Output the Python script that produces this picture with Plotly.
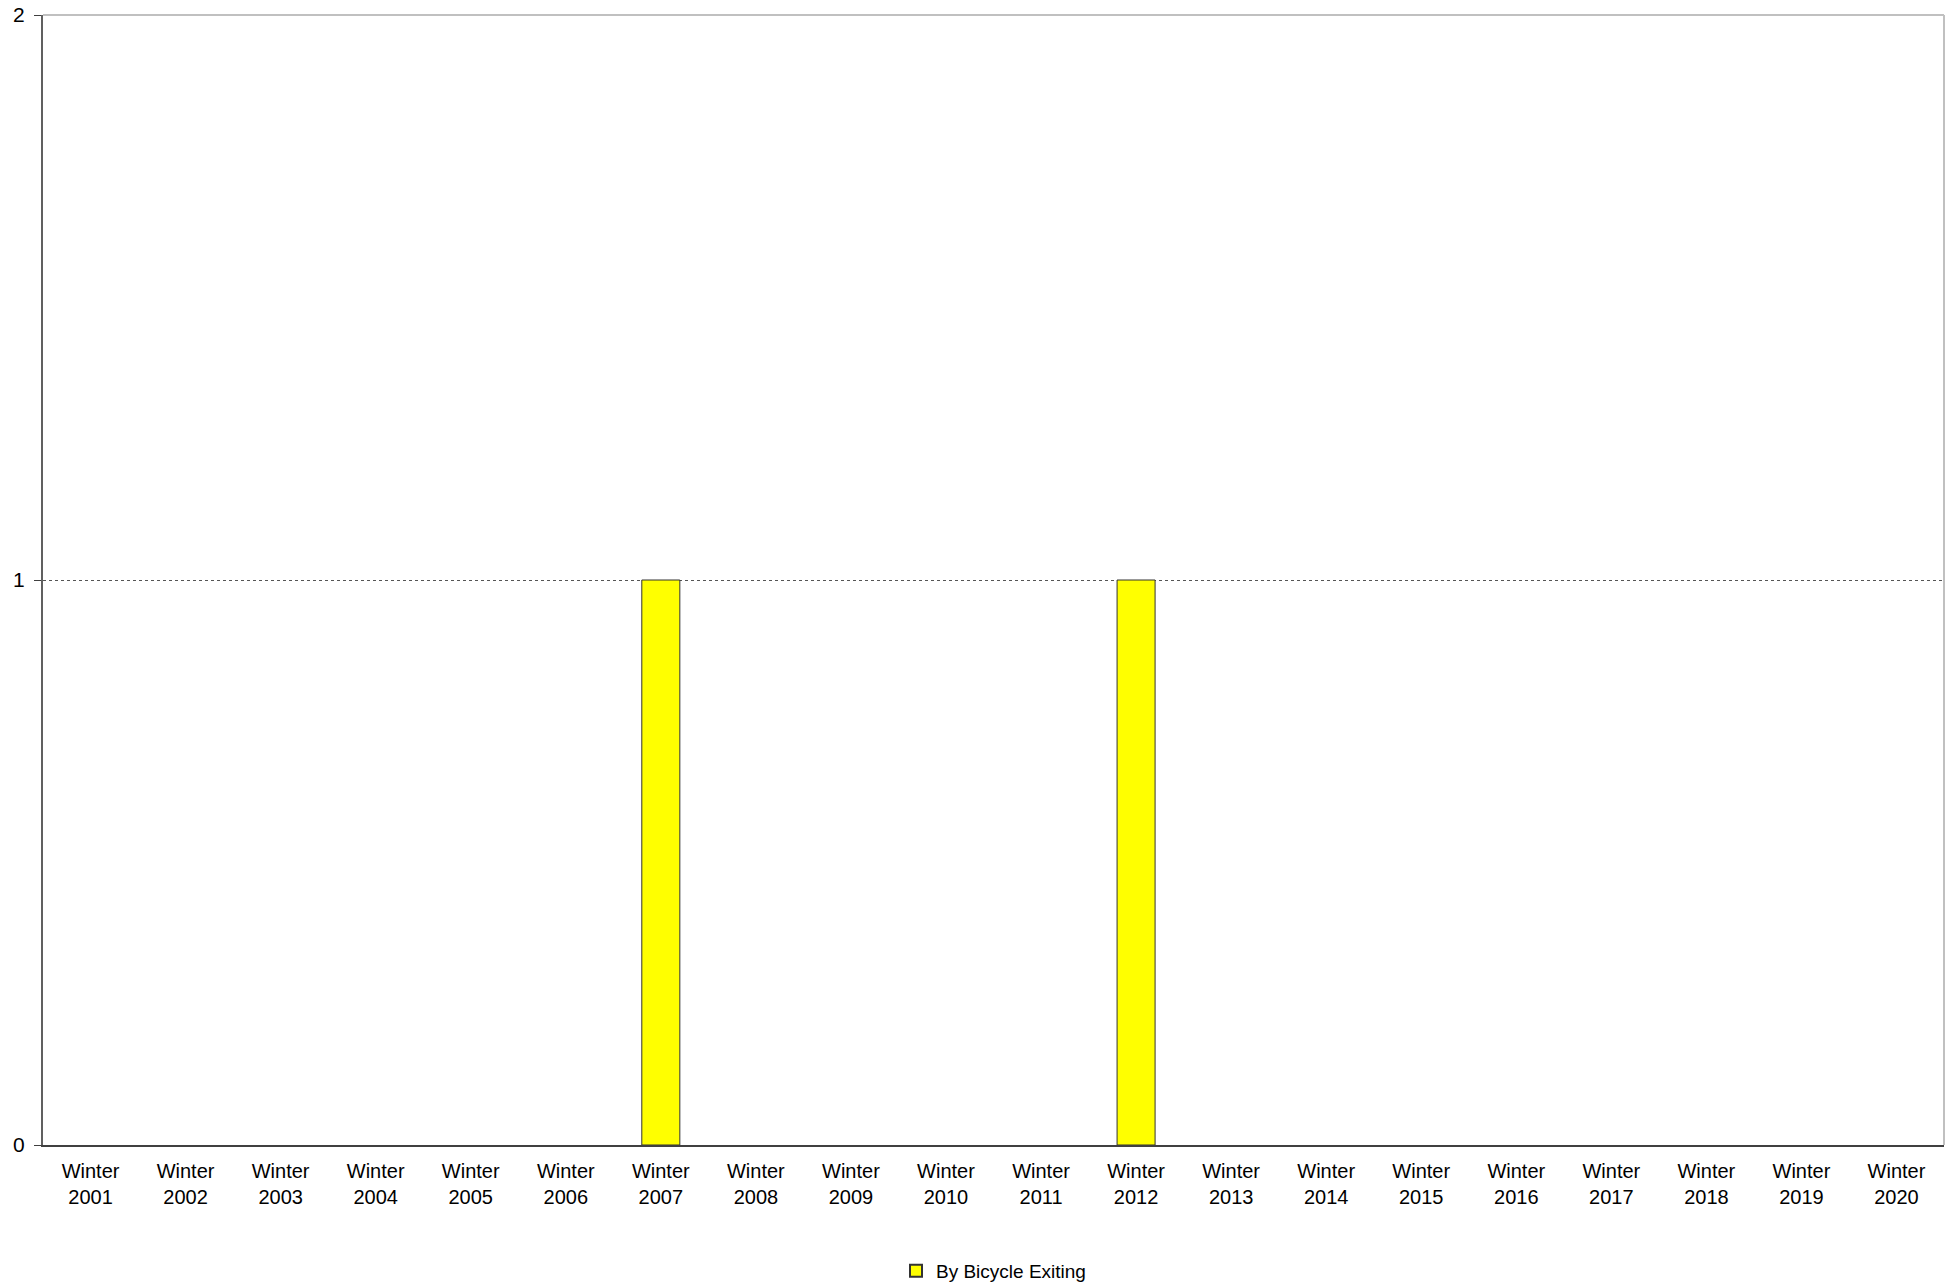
import plotly.graph_objects as go

categories = [f"Winter<br>{y}" for y in range(2001, 2021)]
by_bicycle_exiting = [0, 0, 0, 0, 0, 0, 1, 0, 0, 0, 0, 1, 0, 0, 0, 0, 0, 0, 0, 0]
y_ticks = [0, 1, 2]

outline_widths = [1 if v > 0 else 0 for v in by_bicycle_exiting]

fig = go.Figure()
fig.add_trace(go.Bar(
    x=categories,
    y=by_bicycle_exiting,
    name="By Bicycle Exiting",
    marker=dict(color="#ffff00", line=dict(color="#333333", width=outline_widths)),
))

fig.update_layout(
    width=1953, height=1284,
    paper_bgcolor="white", plot_bgcolor="white",
    margin=dict(l=43, r=9, t=15, b=139, autoexpand=False),
    bargap=0.6,
    font=dict(family="Liberation Sans, Arial, sans-serif", size=21, color="#000000"),
    showlegend=True,
    legend=dict(orientation="h", x=0.5, xanchor="center", y=-0.1115, yanchor="middle",
                font=dict(size=19), itemsizing="constant"),
    shapes=[
        dict(type="line", xref="paper", yref="paper", x0=0, x1=1, y0=1, y1=1,
             line=dict(color="#c0c0c0", width=2)),
        dict(type="line", xref="paper", yref="paper", x0=1, x1=1, y0=0, y1=1,
             line=dict(color="#c0c0c0", width=2)),
    ],
)
fig.update_xaxes(
    automargin=False,
    showline=True, linecolor="#404040", linewidth=2,
    ticks="", showgrid=False, tickfont=dict(size=20), ticklabelstandoff=7,
)
fig.update_yaxes(
    automargin=False,
    range=[0, 2], tickvals=y_ticks, ticktext=[str(v) for v in y_ticks],
    showline=True, linecolor="#606060", linewidth=2,
    ticks="outside", ticklen=7, tickcolor="#404040", tickwidth=1,
    showgrid=True, gridcolor="#555555", griddash="dot", gridwidth=1,
    zeroline=False, tickfont=dict(size=21), ticklabelstandoff=5,
)

fig.write_html(
    "out.html",
    config={"displayModeBar": False},
    post_script="document.body.style.margin='0';document.body.style.overflow='hidden';",
)
